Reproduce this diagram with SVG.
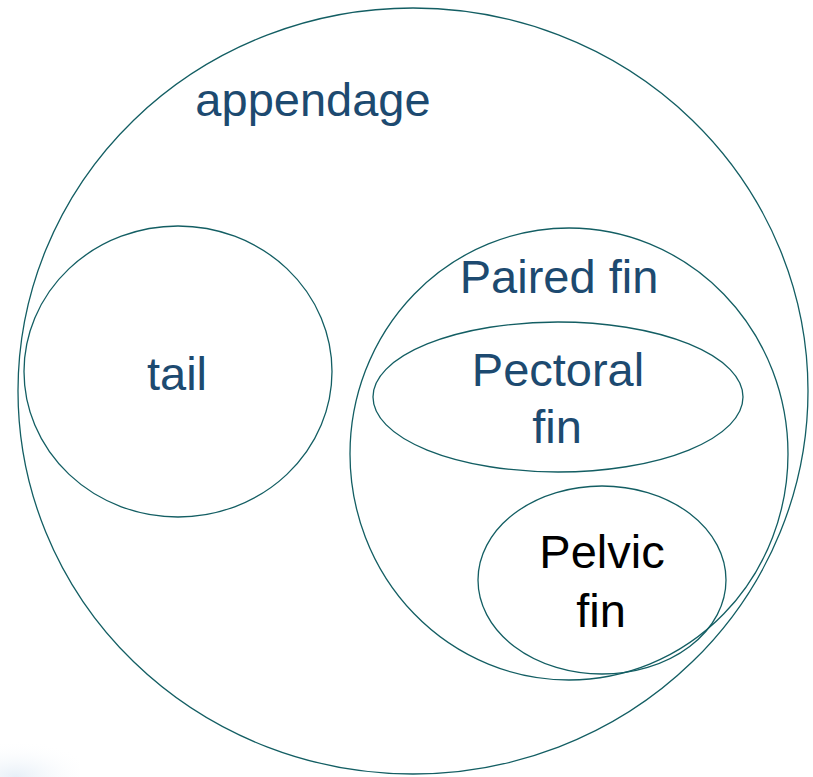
<svg xmlns="http://www.w3.org/2000/svg" width="813" height="777" viewBox="0 0 813 777">
  <defs>
    <style>
      .set { fill: none; stroke: #135e63; stroke-width: 1.3; }
      .lbl { font-family: "Liberation Sans", Arial, sans-serif; font-size: 47px; text-anchor: middle; fill: #1d4a70; }
      .dark { fill: #000000; }
    </style>
    <radialGradient id="haze" cx="0.2" cy="1" r="1">
      <stop offset="0" stop-color="#d6e4f2" stop-opacity="0.6"/>
      <stop offset="1" stop-color="#ffffff" stop-opacity="0"/>
    </radialGradient>
  </defs>

  <rect width="813" height="777" fill="#ffffff"/>
  <!-- faint tint in the lower-left corner -->
  <rect x="0" y="740" width="80" height="37" fill="url(#haze)"/>

  <g id="appendage">
    <ellipse class="set" cx="413" cy="391" rx="395" ry="383"/>
    <text class="lbl" x="313" y="116">appendage</text>
  </g>

  <g id="tail">
    <ellipse class="set" cx="178" cy="371.5" rx="154" ry="145.5"/>
    <text class="lbl" x="177" y="390">tail</text>
  </g>

  <g id="paired-fin">
    <ellipse class="set" cx="569" cy="454" rx="219" ry="226"/>
    <text class="lbl" x="559" y="293">Paired fin</text>
  </g>

  <g id="pectoral-fin">
    <ellipse class="set" cx="558" cy="397" rx="185" ry="75"/>
    <text class="lbl" x="558" y="386">Pectoral</text>
    <text class="lbl" x="557" y="443">fin</text>
  </g>

  <g id="pelvic-fin">
    <ellipse class="set" cx="602" cy="580" rx="124" ry="94"/>
    <text class="lbl dark" x="602" y="568">Pelvic</text>
    <text class="lbl dark" x="601" y="627">fin</text>
  </g>

  <g id="connectors"/>
</svg>
